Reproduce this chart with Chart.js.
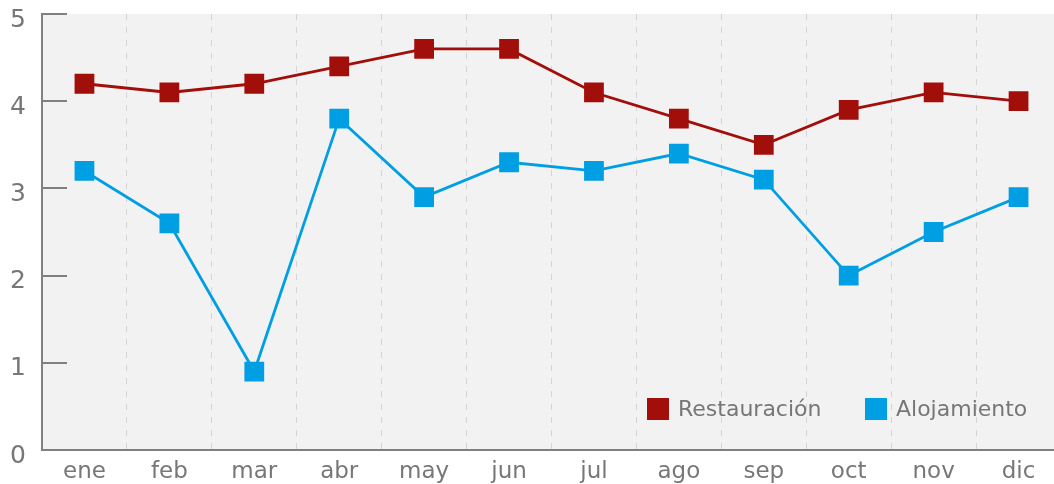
<!DOCTYPE html>
<html>
<head>
<meta charset="utf-8">
<script src="https://cdn.jsdelivr.net/npm/chart.js@4"></script>
<style>
  html, body { margin: 0; padding: 0; background: #ffffff; overflow: hidden; }
  #marco { width: 1054px; height: 484px; overflow: hidden; }
  canvas { display: block; }
</style>
</head>
<body>
<div id="marco"><canvas id="grafico" width="1061" height="484"></canvas></div>
<script>
// --- Datos ---
const meses = ['ene', 'feb', 'mar', 'abr', 'may', 'jun', 'jul', 'ago', 'sep', 'oct', 'nov', 'dic'];
const restauracion = [4.2, 4.1, 4.2, 4.4, 4.6, 4.6, 4.1, 3.8, 3.5, 3.9, 4.1, 4.0];
const alojamiento = [3.2, 2.6, 0.9, 3.8, 2.9, 3.3, 3.2, 3.4, 3.1, 2.0, 2.5, 2.9];
const ticksY = [0, 1, 2, 3, 4, 5];

const ROJO = '#a20f0b';
const AZUL = '#009fe3';
const GRIS = '#777777';
const FUENTE = '"DejaVu Sans", sans-serif';

// fondo gris del área de trazado
const fondoPlugin = {
    id: 'fondo',
    beforeDraw(chart) {
        const { ctx, chartArea: a } = chart;
        ctx.save();
        ctx.fillStyle = '#f2f2f2';
        ctx.fillRect(a.left, a.top, a.right - a.left, a.bottom - a.top);
        ctx.restore();
    }
};

// marcas cortas del eje y hacia dentro
const marcasPlugin = {
    id: 'marcas',
    afterDraw(chart) {
        const { ctx, chartArea: a, scales } = chart;
        ctx.save();
        ctx.strokeStyle = '#808080';
        ctx.lineWidth = 2;
        ticksY.forEach(v => {
            const y = Math.round(scales.y.getPixelForValue(v));
            ctx.beginPath();
            ctx.moveTo(a.left, y);
            ctx.lineTo(a.left + 25, y);
            ctx.stroke();
        });
        ctx.restore();
    }
};

// leyenda dentro del gráfico, abajo a la derecha
const leyendaPlugin = {
    id: 'leyendaDentro',
    afterDatasetsDraw(chart) {
        const { ctx, chartArea: a } = chart;
        ctx.save();
        ctx.font = '22px ' + FUENTE;
        ctx.textBaseline = 'middle';
        const y = a.bottom - 41;
        const cajas = [a.right - 414, a.right - 196];
        chart.data.datasets.forEach((ds, i) => {
            const x = cajas[i];
            ctx.fillStyle = ds.borderColor;
            ctx.fillRect(x, y - 11, 22, 22);
            ctx.fillStyle = GRIS;
            ctx.fillText(ds.label, x + 31, y + 1);
        });
        ctx.restore();
    }
};

function crearGrafico() {
    const ctx = document.getElementById('grafico').getContext('2d');
    new Chart(ctx, {
        type: 'line',
        data: {
            labels: meses,
            datasets: [{
                label: 'Restauración',
                data: restauracion,
                borderColor: ROJO,
                backgroundColor: ROJO,
                borderWidth: 2.8,
                pointStyle: 'rect',
                pointRadius: 12,
                pointHoverRadius: 12,
                tension: 0
            }, {
                label: 'Alojamiento',
                data: alojamiento,
                borderColor: AZUL,
                backgroundColor: AZUL,
                borderWidth: 2.8,
                pointStyle: 'rect',
                pointRadius: 12,
                pointHoverRadius: 12,
                tension: 0
            }]
        },
        options: {
            responsive: false,
            animation: false,
            layout: { autoPadding: false, padding: { top: 14, right: 0, left: 0, bottom: 0 } },
            plugins: {
                legend: { display: false },
                tooltip: { enabled: false }
            },
            scales: {
                x: {
                    offset: true,
                    grid: {
                        offset: true,
                        color: '#d4d4d4',
                        lineWidth: 1,
                        drawTicks: false
                    },
                    border: { display: true, color: '#808080', width: 2, dash: [6, 7] },
                    ticks: {
                        color: GRIS,
                        font: { family: FUENTE, size: 23 },
                        padding: 8,
                        maxRotation: 0
                    },
                    afterFit(scale) {
                        scale.height = 34;
                        scale.paddingLeft = 0;
                        scale.paddingRight = 0;
                    }
                },
                y: {
                    min: 0,
                    max: 5,
                    afterBuildTicks(scale) { scale.ticks = ticksY.map(v => ({ value: v })); },
                    grid: { display: false, drawTicks: false },
                    border: { display: true, color: '#808080', width: 2 },
                    ticks: {
                        color: GRIS,
                        font: { family: FUENTE, size: 25 },
                        labelOffset: 6,
                        padding: 16
                    },
                    afterFit(scale) {
                        scale.width = 42;
                        scale.paddingTop = 0;
                        scale.paddingBottom = 0;
                    }
                }
            }
        },
        plugins: [fondoPlugin, marcasPlugin, leyendaPlugin]
    });
}

crearGrafico();
</script>
</body>
</html>
